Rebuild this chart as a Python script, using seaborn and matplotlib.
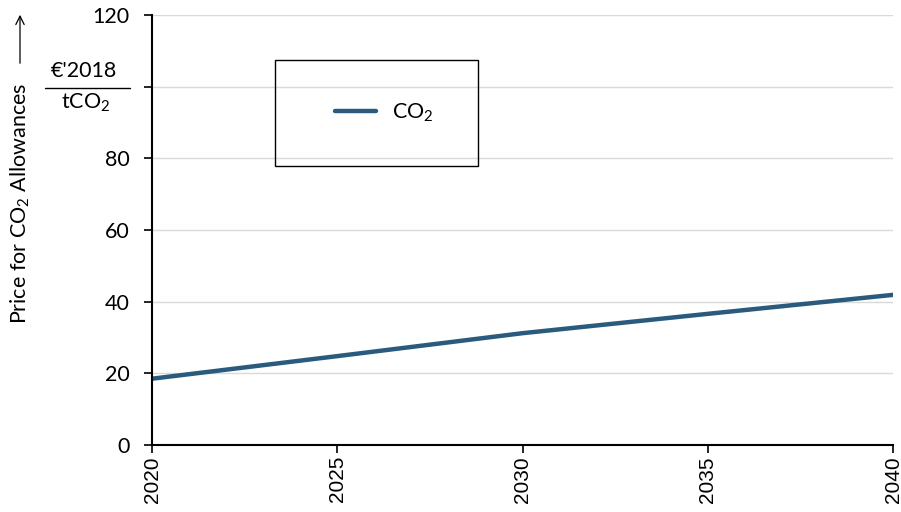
import matplotlib
matplotlib.use("Agg")
import matplotlib.pyplot as plt
from matplotlib.patches import Rectangle
import seaborn as sns
import pandas as pd

years = [2020, 2025, 2030, 2035, 2040]
co2_price = [18.5, 24.8, 31.2, 36.6, 41.9]
y_ticks = [0, 20, 40, 60, 80, 100, 120]
y_tick_labels = ["0", "20", "40", "60", "80", "", "120"]
x_ticks = [2020, 2025, 2030, 2035, 2040]
series_name = "CO$_2$"
line_color = "#2a5b7f"

sns.set_theme(style="white")
plt.rcParams['font.family'] = ['Lato', 'DejaVu Sans']
plt.rcParams['mathtext.fontset'] = 'custom'
plt.rcParams['mathtext.rm'] = 'Lato'
plt.rcParams['mathtext.it'] = 'Lato'
plt.rcParams['mathtext.bf'] = 'Lato'
plt.rcParams['mathtext.default'] = 'regular'
plt.rcParams['text.color'] = 'black'
plt.rcParams['xtick.color'] = 'black'
plt.rcParams['ytick.color'] = 'black'

W, H = 901, 512
def fx(px):
    return px / W
def fy(py):
    return 1 - py / H

df = pd.DataFrame({"Year": years, "Price": co2_price, "Series": series_name})

fig = plt.figure(figsize=(9.01, 5.12), dpi=100)
ax = fig.add_axes([fx(152), fy(445), (893 - 152) / W, (445 - 15) / H])

sns.lineplot(data=df, x="Year", y="Price", hue="Series", palette=[line_color],
             linewidth=3.2, ax=ax, legend=True)

ax.set_xlim(2020, 2040)
ax.set_ylim(0, 120)
ax.set_yticks(y_ticks)
ax.set_yticklabels(y_tick_labels, fontsize=15.5)
ax.set_xticks(x_ticks)
ax.set_xticklabels([str(x) for x in x_ticks], rotation=90, fontsize=15,
                   family=['Liberation Sans', 'DejaVu Sans'])
ax.set_xlabel("")
ax.set_ylabel("")
for v in y_ticks[1:]:
    ax.axhline(v, color="#d9d9d9", linewidth=1, zorder=0)

ax.spines["top"].set_visible(False)
ax.spines["right"].set_visible(False)
ax.spines["left"].set_color("black")
ax.spines["bottom"].set_color("black")
ax.spines["left"].set_linewidth(1.5)
ax.spines["bottom"].set_linewidth(1.5)
ax.tick_params(axis="both", which="both", direction="out", length=6, width=1.2,
               color="black", left=True, bottom=True)
ax.tick_params(axis="y", pad=10)
ax.tick_params(axis="x", pad=2)

# legend: box drawn as a rectangle, entries centred in it
fig.add_artist(Rectangle((fx(275), fy(166)), (478 - 275) / W, (166 - 60) / H,
                         transform=fig.transFigure, fill=False,
                         edgecolor="black", linewidth=1.0))
leg = ax.legend(loc="center", bbox_to_anchor=(fx(384), fy(113)),
                bbox_transform=fig.transFigure,
                frameon=False, fontsize=15.5, handlelength=1.9,
                handletextpad=0.75)
for t in leg.get_texts():
    t.set_text(series_name)

# unit label
fig.text(fx(84), fy(71), "€'2018", ha="center", va="center", fontsize=15.5)
fig.text(fx(86), fy(103), "tCO$_2$", ha="center", va="center", fontsize=15.5)
fig.add_artist(plt.Line2D([fx(45), fx(130)], [fy(88), fy(88)], color="black", lw=1))

# y axis title with arrow
fig.text(fx(20), fy(203), "Price for CO$_2$ Allowances", rotation=90,
         ha="center", va="center", fontsize=15.5)
fig.add_artist(matplotlib.patches.FancyArrowPatch(
    (fx(20), fy(66)), (fx(20), fy(12)), transform=fig.transFigure,
    arrowstyle="->,head_length=6,head_width=3", color="black", lw=0.9,
    mutation_scale=1))

fig.savefig("out.png", dpi=100)
